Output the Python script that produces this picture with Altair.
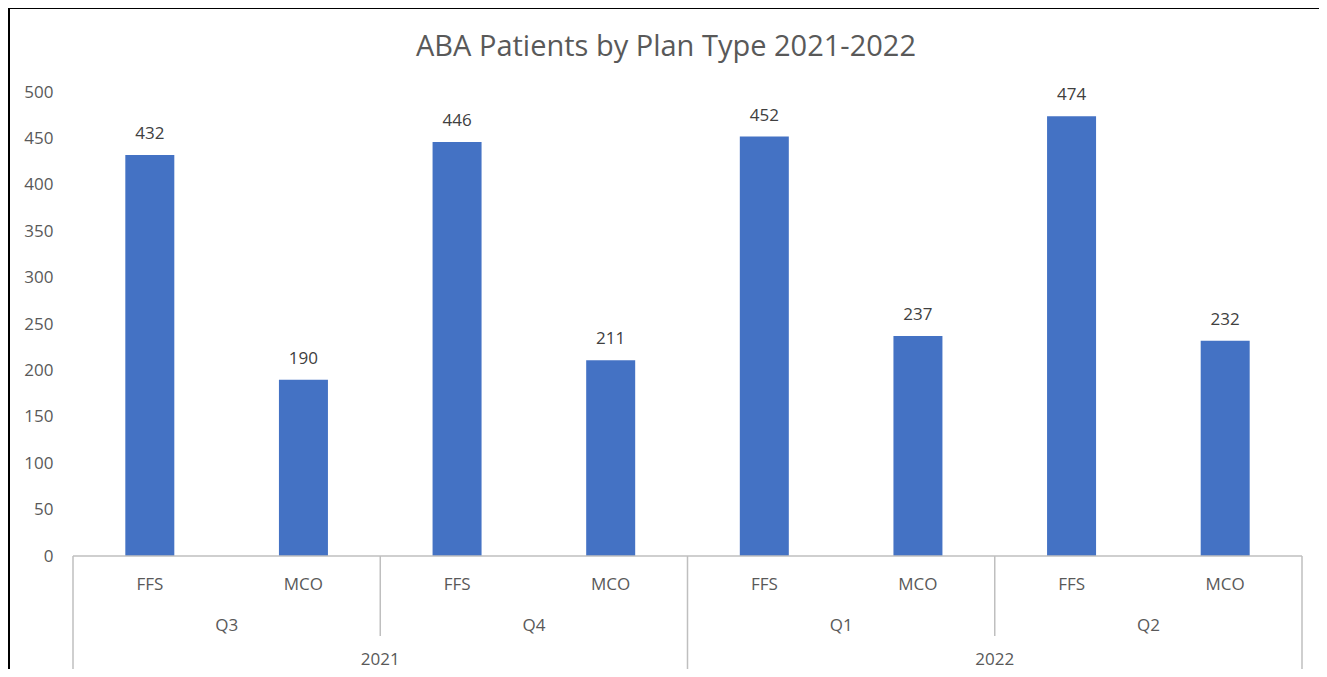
import altair as alt
import pandas as pd

# ---- data ----
years = ["2021", "2021", "2021", "2021", "2022", "2022", "2022", "2022"]
quarters = ["Q3", "Q3", "Q4", "Q4", "Q1", "Q1", "Q2", "Q2"]
plans = ["FFS", "MCO", "FFS", "MCO", "FFS", "MCO", "FFS", "MCO"]
patients = [432, 190, 446, 211, 452, 237, 474, 232]

quarter_labels = ["Q3", "Q4", "Q1", "Q2"]
year_labels = ["2021", "2022"]
y_ticks = [0, 50, 100, 150, 200, 250, 300, 350, 400, 450, 500]

TITLE = "ABA Patients by Plan Type 2021-2022"
BAR = "#4472C4"
TXT = "#595959"
LINE = "#BFBFBF"
FONT = "Open Sans"
FS = 17

W, H = 1229, 464

df = pd.DataFrame({
    "year": years, "quarter": quarters, "plan": plans, "patients": patients,
    "idx": list(range(len(plans))),
})
df["pos"] = df["idx"] + 0.5

qdf = pd.DataFrame({"quarter": quarter_labels, "q": list(range(len(quarter_labels)))})
qdf["pos"] = qdf["q"] * 2 + 1
ydf = pd.DataFrame({"year": year_labels, "k": list(range(len(year_labels)))})
ydf["pos"] = ydf["k"] * 4 + 2

# separators: boundaries between quarters (short) and years (long)
sep_short = pd.DataFrame({"b": [2, 6]})
sep_long = pd.DataFrame({"b": [0, 4, 8]})

xs = alt.Scale(domain=[0, len(plans)], nice=False, zero=False, padding=0)
ys = alt.Scale(domain=[0, 500], nice=False, padding=0)

base = alt.Chart(df)

bars = base.mark_bar(color=BAR, size=49).encode(
    x=alt.X("pos:Q", scale=xs, axis=None),
    y=alt.Y("patients:Q", scale=ys,
            axis=alt.Axis(values=y_ticks, title=None, grid=False, domain=False,
                          ticks=False, labelPadding=20, labelFontSize=FS,
                          labelColor=TXT, labelFont=FONT)),
)

values = base.mark_text(font=FONT, fontSize=FS, color="#404040", dy=-21).encode(
    x=alt.X("pos:Q", scale=xs),
    y=alt.Y("patients:Q", scale=ys),
    text="patients:Q",
)

one = sep_long.iloc[:1]

axis_line = alt.Chart(one).mark_rule(color=LINE, strokeWidth=1.5).encode(
    x=alt.value(0), x2=alt.value(W), y=alt.value(H)
)

plan_lbl = base.mark_text(font=FONT, fontSize=FS, color=TXT).encode(
    x=alt.X("pos:Q", scale=xs), y=alt.value(H + 29), text="plan:N"
)
q_lbl = alt.Chart(qdf).mark_text(font=FONT, fontSize=FS, color=TXT).encode(
    x=alt.X("pos:Q", scale=xs), y=alt.value(H + 70), text="quarter:N"
)
y_lbl = alt.Chart(ydf).mark_text(font=FONT, fontSize=FS, color=TXT).encode(
    x=alt.X("pos:Q", scale=xs), y=alt.value(H + 104), text="year:N"
)

short_rules = alt.Chart(sep_short).mark_rule(color=LINE, strokeWidth=1.5).encode(
    x=alt.X("b:Q", scale=xs), y=alt.value(H), y2=alt.value(H + 80)
)
long_rules = alt.Chart(sep_long).mark_rule(color=LINE, strokeWidth=1.5).encode(
    x=alt.X("b:Q", scale=xs), y=alt.value(H), y2=alt.value(H + 140)
)

# outer chart frame (left and top edges visible)
frame_left = alt.Chart(one).mark_rule(color="#000000", strokeWidth=2).encode(
    x=alt.value(-64), y=alt.value(-84), y2=alt.value(H + 120)
)
frame_top = alt.Chart(one).mark_rule(color="#000000", strokeWidth=2).encode(
    x=alt.value(-65), x2=alt.value(W + 30), y=alt.value(-84)
)

title_mark = alt.Chart(one).mark_text(
    font=FONT, fontSize=29, color=TXT, baseline="middle"
).encode(
    x=alt.value(593), y=alt.value(-45), text=alt.value(TITLE)
)

chart = alt.layer(
    frame_left, frame_top, bars, values, axis_line, short_rules, long_rules,
    plan_lbl, q_lbl, y_lbl, title_mark
).properties(
    width=W, height=H,
    autosize=alt.AutoSizeParams(type="none"),
    padding={"left": 65, "top": 84, "right": 17, "bottom": 113},
    background="white",
).configure_view(stroke=None)

chart.save("out.html", embed_options={"renderer": "svg", "actions": False})
